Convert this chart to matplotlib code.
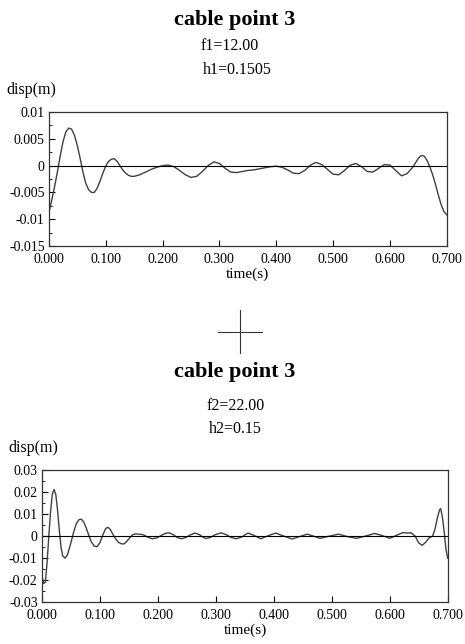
import matplotlib
matplotlib.use('Agg')
import matplotlib.pyplot as plt
from matplotlib.lines import Line2D
from matplotlib.ticker import MultipleLocator, FormatStrFormatter

plt.rc('font', family=['Liberation Serif', 'DejaVu Serif'])

# cable point 3, first case (f1=12.00, h1=0.1505)
t1 = [0.000, 0.005, 0.010, 0.015, 0.020, 0.025, 0.030, 0.035, 0.040, 0.045,
      0.050, 0.055, 0.060, 0.065, 0.070, 0.075, 0.080, 0.085, 0.090, 0.095,
      0.100, 0.105, 0.110, 0.115, 0.120, 0.125, 0.130, 0.135, 0.140, 0.145,
      0.150, 0.160, 0.170, 0.180, 0.190, 0.200, 0.210, 0.220, 0.230, 0.240,
      0.250, 0.260, 0.270, 0.280, 0.290, 0.300, 0.310, 0.320, 0.330, 0.340,
      0.350, 0.360, 0.370, 0.380, 0.390, 0.400, 0.410, 0.420, 0.430, 0.440,
      0.450, 0.460, 0.470, 0.480, 0.490, 0.500, 0.510, 0.520, 0.530, 0.540,
      0.550, 0.560, 0.570, 0.580, 0.590, 0.600, 0.610, 0.620, 0.630, 0.640,
      0.650, 0.655, 0.660, 0.665, 0.670, 0.675, 0.680, 0.685, 0.690, 0.695,
      0.700]
disp1 = [-0.0088, -0.0065, -0.0040, -0.0012, 0.0018, 0.0045, 0.0063, 0.0070, 0.0068, 0.0057,
         0.0038, 0.0014, -0.0012, -0.0033, -0.0045, -0.0050, -0.0050, -0.0042, -0.0029, -0.0014,
         -0.0001, 0.0008, 0.0012, 0.0013, 0.0008, 0.0000, -0.0008, -0.0014, -0.0018, -0.0020,
         -0.0020, -0.0017, -0.0012, -0.0007, -0.0003, 0.0000, 0.0001, -0.0002, -0.0009, -0.0017,
         -0.0022, -0.0020, -0.0011, 0.0000, 0.0007, 0.0004, -0.0005, -0.0012, -0.0013, -0.0011,
         -0.0009, -0.0008, -0.0006, -0.0004, -0.0002, -0.0001, -0.0003, -0.0008, -0.0014, -0.0015,
         -0.0009, 0.0001, 0.0006, 0.0002, -0.0007, -0.0016, -0.0017, -0.0009, 0.0001, 0.0004,
         -0.0002, -0.0011, -0.0012, -0.0005, 0.0002, 0.0001, -0.0009, -0.0019, -0.0015, -0.0003,
         0.0014, 0.0019, 0.0018, 0.0010, -0.0002, -0.0017, -0.0035, -0.0055, -0.0073, -0.0086,
         -0.0092]

# cable point 3, second case (f2=22.00, h2=0.15)
t2 = [0.000, 0.003, 0.006, 0.009, 0.012, 0.015, 0.018, 0.021, 0.024, 0.027,
      0.030, 0.033, 0.036, 0.040, 0.044, 0.048, 0.052, 0.056, 0.060, 0.064,
      0.068, 0.072, 0.076, 0.080, 0.085, 0.090, 0.095, 0.100, 0.105, 0.110,
      0.114, 0.118, 0.122, 0.127, 0.132, 0.137, 0.142, 0.147, 0.152, 0.157,
      0.162, 0.168, 0.175, 0.182, 0.190, 0.198, 0.205, 0.212, 0.219, 0.226,
      0.233, 0.241, 0.248, 0.256, 0.264, 0.272, 0.278, 0.283, 0.290, 0.298,
      0.309, 0.318, 0.326, 0.335, 0.344, 0.355, 0.365, 0.377, 0.390, 0.403,
      0.415, 0.431, 0.444, 0.457, 0.468, 0.479, 0.495, 0.511, 0.526, 0.542,
      0.557, 0.573, 0.586, 0.599, 0.611, 0.622, 0.630, 0.636, 0.643, 0.649,
      0.655, 0.661, 0.667, 0.673, 0.677, 0.681, 0.685, 0.687, 0.690, 0.693,
      0.696, 0.699]
disp2 = [-0.0180, -0.0215, -0.0210, -0.0120, 0.0000, 0.0110, 0.0190, 0.0212, 0.0190, 0.0120,
         0.0030, -0.0050, -0.0090, -0.0100, -0.0085, -0.0050, -0.0010, 0.0030, 0.0060, 0.0075,
         0.0077, 0.0065, 0.0040, 0.0010, -0.0025, -0.0045, -0.0048, -0.0030, 0.0005, 0.0035,
         0.0040, 0.0030, 0.0010, -0.0012, -0.0028, -0.0035, -0.0035, -0.0022, -0.0005, 0.0007,
         0.0010, 0.0009, 0.0006, -0.0004, -0.0012, -0.0008, 0.0002, 0.0012, 0.0015, 0.0007,
         -0.0006, -0.0012, -0.0006, 0.0006, 0.0014, 0.0006, -0.0006, -0.0011, -0.0006, 0.0006,
         0.0015, 0.0006, -0.0006, -0.0012, -0.0004, 0.0014, 0.0004, -0.0012, 0.0002, 0.0014,
         0.0002, -0.0013, -0.0002, 0.0009, 0.0000, -0.0010, 0.0000, 0.0009, -0.0002, -0.0010,
         0.0000, 0.0012, 0.0003, -0.0010, 0.0004, 0.0016, 0.0014, 0.0015, 0.0000, -0.0030,
         -0.0042, -0.0028, -0.0008, 0.0000, 0.0030, 0.0080, 0.0120, 0.0125, 0.0085, 0.0020,
         -0.0060, -0.0100]

fig = plt.figure(figsize=(4.65, 6.44), dpi=100)


def panel(rect, t, d, ylim, ystep, yfmt):
    ax = fig.add_axes(rect)
    ax.plot(t, d, color='#404040', linewidth=1.0)
    ax.axhline(0, color='black', linewidth=0.8)
    ax.set_xlim(0, 0.7)
    ax.set_ylim(*ylim)
    ax.xaxis.set_major_locator(MultipleLocator(0.1))
    ax.xaxis.set_major_formatter(FormatStrFormatter('%.3f'))
    ax.yaxis.set_major_locator(MultipleLocator(ystep))
    ax.yaxis.set_minor_locator(MultipleLocator(ystep / 2))
    ax.yaxis.set_major_formatter(plt.FuncFormatter(yfmt))
    ax.tick_params(direction='in', length=4, width=0.8, labelsize=10, pad=3)
    ax.tick_params(axis='x', pad=5)
    ax.tick_params(which='minor', direction='in', length=2, width=0.6)
    for s in ax.spines.values():
        s.set_linewidth(0.9)
        s.set_color('#333333')
    ax.set_xlabel('time(s)', fontsize=11, labelpad=1)
    return ax


def fmt1(v, pos):
    if abs(v) < 1e-9:
        return '0'
    return ('%.3f' % v).rstrip('0')


def fmt2(v, pos):
    if abs(v) < 1e-9:
        return '0'
    return '%.2f' % v


panel([0.105, 0.618, 0.856, 0.208], t1, disp1, (-0.015, 0.01), 0.005, fmt1)
panel([0.090, 0.065, 0.874, 0.205], t2, disp2, (-0.03, 0.03), 0.01, fmt2)

# titles
fig.text(0.505, 0.969, 'cable point 3', ha='center', va='center', fontsize=16, fontweight='bold')
fig.text(0.493, 0.929, 'f1=12.00', ha='center', va='center', fontsize=11.5)
fig.text(0.510, 0.891, 'h1=0.1505', ha='center', va='center', fontsize=11.5)
fig.text(0.013, 0.860, 'disp(m)', ha='left', va='center', fontsize=11.5)

fig.text(0.505, 0.422, 'cable point 3', ha='center', va='center', fontsize=16, fontweight='bold')
fig.text(0.507, 0.369, 'f2=22.00', ha='center', va='center', fontsize=11.5)
fig.text(0.505, 0.334, 'h2=0.15', ha='center', va='center', fontsize=11.5)
fig.text(0.017, 0.304, 'disp(m)', ha='left', va='center', fontsize=11.5)

# registration cross between the two panels
fig.add_artist(Line2D([0.516, 0.516], [0.452, 0.519], color='#333333', linewidth=0.8))
fig.add_artist(Line2D([0.469, 0.563], [0.485, 0.485], color='#333333', linewidth=0.8))

fig.savefig('out.png', dpi=100)
